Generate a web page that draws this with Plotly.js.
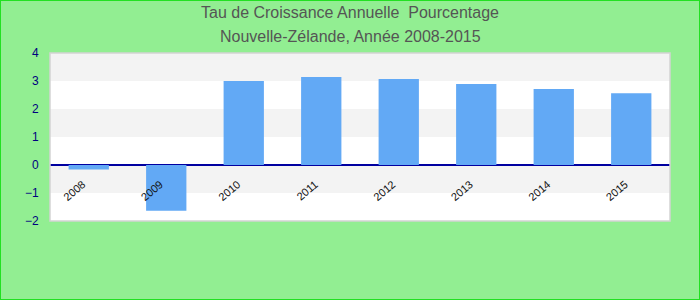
<!DOCTYPE html>
<html>
<head>
<meta charset="utf-8">
<script src="https://cdn.plot.ly/plotly-3.0.1.min.js"></script>
<style>
html,body{margin:0;padding:0;}
#wrap{position:relative;width:700px;height:300px;}
#chart{width:700px;height:300px;}
#frame{position:absolute;left:0;top:0;width:698px;height:298px;border:1px solid #22e022;pointer-events:none;}
</style>
</head>
<body>
<div id="wrap"><div id="chart"></div><div id="frame"></div></div>
<script>
const years = ['2008','2009','2010','2011','2012','2013','2014','2015'];
const growth = [-0.16, -1.63, 3.00, 3.14, 3.07, 2.89, 2.71, 2.56];
const yTicks = [-2, -1, 0, 1, 2, 3, 4];
const shadedBands = [[-1, 0], [1, 2], [3, 4]];
const titleLine1 = 'Tau de Croissance Annuelle  Pourcentage';
const titleLine2 = 'Nouvelle-Zélande, Année 2008-2015';

const shapes = shadedBands.map(b => ({
  type: 'rect', xref: 'paper', yref: 'y', x0: 0, x1: 1, y0: b[0], y1: b[1],
  fillcolor: '#f3f3f3', line: {width: 0}, layer: 'below'
}));
shapes.push({type: 'rect', xref: 'paper', yref: 'paper', x0: 0, x1: 1, y0: 0, y1: 1,
  line: {color: '#d4d4d4', width: 1.5}, layer: 'above'});

const trace = {
  type: 'bar', x: years, y: growth,
  marker: {color: '#62a9f5'},
  hoverinfo: 'x+y'
};

const font = 'Liberation Sans, Arial, sans-serif';
const layout = {
  width: 700, height: 300,
  paper_bgcolor: '#92ee92', plot_bgcolor: '#ffffff',
  margin: {l: 50, r: 30, t: 53, b: 79},
  title: {
    text: titleLine1,
    font: {family: font, size: 16, color: '#555555'},
    x: 0.5, xanchor: 'center', y: 0.958, yanchor: 'middle', yref: 'container'
  },
  annotations: [{
    text: titleLine2, xref: 'paper', yref: 'paper', x: 0.484, y: 1.098,
    xanchor: 'center', yanchor: 'middle', showarrow: false,
    font: {family: font, size: 16, color: '#555555'}
  }],
  bargap: 0.48,
  showlegend: false,
  xaxis: {
    type: 'category', anchor: 'free', position: 2/6,
    showline: false, showgrid: false, zeroline: false,
    tickangle: -40, ticks: '', ticklabelstandoff: 10, ticklabelshift: -6,
    tickfont: {family: font, size: 11, color: '#111111'}
  },
  yaxis: {
    range: [-2, 4], tickvals: yTicks,
    showgrid: false, zeroline: true, zerolinecolor: '#0000a0', zerolinewidth: 1.3,
    ticks: 'outside', ticklen: 8, tickcolor: 'rgba(0,0,0,0)',
    tickfont: {family: font, size: 12, color: '#000080'}
  },
  shapes: shapes
};

Plotly.newPlot('chart', [trace], layout, {displayModeBar: false, staticPlot: true});
</script>
</body>
</html>
